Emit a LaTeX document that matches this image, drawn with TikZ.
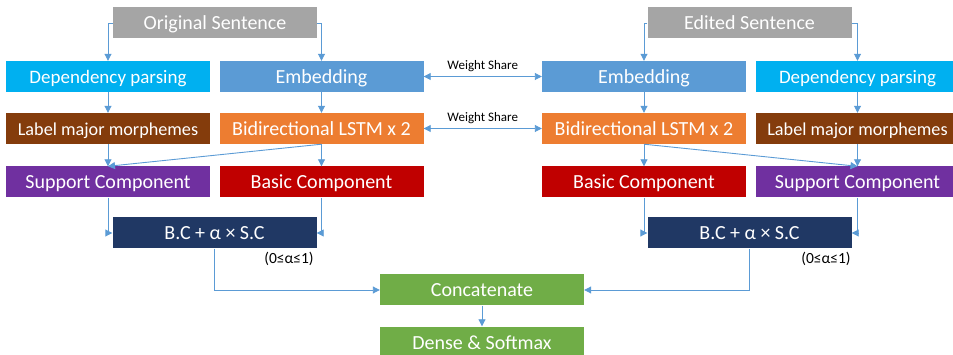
\documentclass[tikz,border=0pt]{standalone}
\usepackage{fontspec}
\setmainfont{Carlito}
\usetikzlibrary{arrows.meta}
\definecolor{sentgray}{HTML}{A5A5A5}
\definecolor{depblue}{HTML}{00B0F0}
\definecolor{embblue}{HTML}{5B9BD5}
\definecolor{labbrown}{HTML}{843C0C}
\definecolor{lstmorange}{HTML}{ED7D31}
\definecolor{suppurple}{HTML}{7030A0}
\definecolor{basred}{HTML}{C00000}
\definecolor{bcnavy}{HTML}{203864}
\definecolor{outgreen}{HTML}{70AD47}
\definecolor{flowblue}{HTML}{5B9BD5}

\begin{document}
\begin{tikzpicture}[x=1pt,y=-1pt,
		box/.style={minimum width=204pt,minimum height=31pt,inner sep=0pt,text=white,
			font=\fontsize{20}{24}\selectfont,text height=16pt,text depth=2pt},
		narrow/.style={font=\fontsize{18.2}{22}\selectfont},
		flow/.style={draw=flowblue,line width=0.9pt,-{Triangle[length=7pt,width=7pt]}},
		both/.style={{Triangle[length=7pt,width=7pt]}-{Triangle[length=7pt,width=7pt]}},
		note/.style={inner sep=0pt,font=\fontsize{15.5}{18}\selectfont},
		share/.style={inner sep=0pt,font=\fontsize{13}{15}\selectfont}]
				\useasboundingbox (0,0) rectangle (953,355);
				% nodes, left side
				\node [box,fill=sentgray]   (origS) at (215,23)    {Original Sentence};
				\node [box,fill=depblue,font=\fontsize{19}{22}\selectfont] (depL) at (108,76.5) {Dependency parsing};
				\node [box,fill=embblue]    (embL)  at (321.5,76.5) {Embedding};
				\node [box,fill=labbrown,narrow] (labL) at (108,128.5) {Label major morphemes};
				\node [box,fill=lstmorange] (lstmL) at (321.5,128.5) {Bidirectional LSTM x 2};
				\node [box,fill=suppurple]  (supL)  at (108,182)   {Support Component};
				\node [box,fill=basred]     (basL)  at (321.5,182) {Basic Component};
				\node [box,fill=bcnavy]     (bcL)   at (214.5,233) {B.C + α × S.C};
				\node [note] (alphaL) at (289,259) {(0≤α≤1)};
				% nodes, right side
				\node [box,fill=sentgray]   (editS) at (749.5,23)  {Edited Sentence};
				\node [box,fill=embblue]    (embR)  at (644,76.5)  {Embedding};
				\node [box,fill=depblue,font=\fontsize{19}{22}\selectfont] (depR) at (857.5,76.5) {Dependency parsing};
				\node [box,fill=lstmorange] (lstmR) at (644,128.5) {Bidirectional LSTM x 2};
				\node [box,fill=labbrown,narrow] (labR) at (857.5,128.5) {Label major morphemes};
				\node [box,fill=basred]     (basR)  at (644,182)   {Basic Component};
				\node [box,fill=suppurple]  (supR)  at (857.5,182) {Support Component};
				\node [box,fill=bcnavy]     (bcR)   at (749.5,233) {B.C + α × S.C};
				\node [note] (alphaR) at (826,259) {(0≤α≤1)};
				% output
				\node [box,fill=outgreen] (concat) at (482,290) {Concatenate};
				\node [box,fill=outgreen] (dense)  at (482,342) {Dense \& Softmax};
				% connectors
				\draw [flow] (origS.west) -| (depL.north);
				\draw [flow] (origS.east) -| (embL.north);
				\draw [flow] (depL) -- (labL);
				\draw [flow] (embL) -- (lstmL);
				\draw [flow] (labL) -- (supL);
				\draw [flow] (lstmL) -- (basL);
				\draw [flow] (lstmL.south) -- (supL.north);
				\draw [flow] (supL.south) |- (bcL.west);
				\draw [flow] (basL.south) |- (bcL.east);
				\draw [flow] (editS.west) -| (embR.north);
				\draw [flow] (editS.east) -| (depR.north);
				\draw [flow] (embR) -- (lstmR);
				\draw [flow] (depR) -- (labR);
				\draw [flow] (lstmR) -- (basR);
				\draw [flow] (labR) -- (supR);
				\draw [flow] (lstmR.south) -- (supR.north);
				\draw [flow] (basR.south) |- (bcR.west);
				\draw [flow] (supR.south) |- (bcR.east);
				\draw [flow] (bcL.south) |- (concat.west);
				\draw [flow] (bcR.south) |- (concat.east);
				\draw [flow] (concat) -- (dense);
				% weight sharing
				\draw [flow,both] (embL.east) -- (embR.west) node [midway,above=4pt,share] {Weight Share};
				\draw [flow,both] (lstmL.east) -- (lstmR.west) node [midway,above=4pt,share] {Weight Share};
			\end{tikzpicture}
\end{document}
